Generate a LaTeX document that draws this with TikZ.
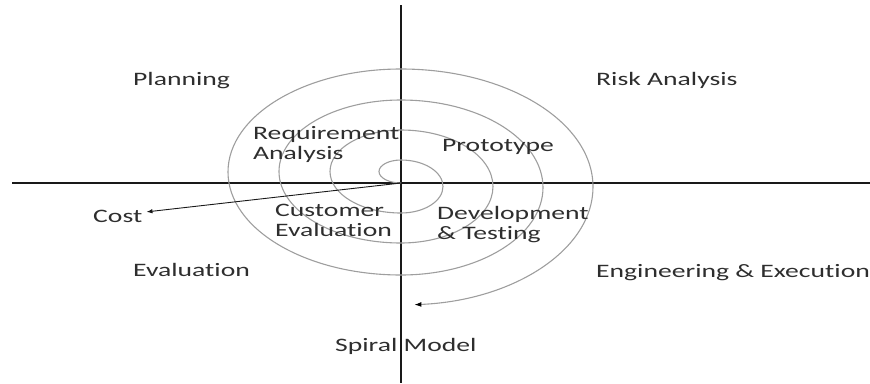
\documentclass[tikz,border=0pt]{standalone}
\usepackage{fontspec}
\setmainfont{Carlito}[RawFeature={-liga;-clig;-calt}]
\usetikzlibrary{arrows.meta}
\newcommand{\wide}[1]{\scalebox{1.455}[1]{#1}}
\begin{document}
\begin{tikzpicture}[x=1pt,y=-1pt,
  lbl/.style={anchor=base west,inner sep=0pt,text=black!82,font=\fontsize{19}{20.5}\selectfont},
  axis/.style={line width=1.3pt,black!90},
  spiral/.style={line width=1.1pt,black!38},
  tip/.style={-{Latex[length=7pt,width=5pt,black]}}]
\useasboundingbox (0,0) rectangle (870,383);
% axes
\coordinate (o) at (401,183);
\coordinate (top) at (401,5);
\coordinate (bot) at (401,383);
\coordinate (lft) at (12,183);
\coordinate (rgt) at (870,183);
\draw[axis] (top) -- (bot);
\draw[axis] (lft) -- (rgt);
% spiral
\draw[spiral] (o)
  arc[start angle=270,end angle=90,x radius=22pt,y radius=11.5pt]
  arc[start angle=90,end angle=-90,x radius=42pt,y radius=26.5pt]
  arc[start angle=270,end angle=90,x radius=71pt,y radius=41.5pt]
  arc[start angle=90,end angle=-90,x radius=92pt,y radius=56.5pt]
  arc[start angle=270,end angle=90,x radius=122pt,y radius=71.5pt]
  arc[start angle=90,end angle=-90,x radius=142pt,y radius=87.5pt]
  arc[start angle=270,end angle=90,x radius=173pt,y radius=103pt] coordinate (s7);
\draw[spiral,tip] (s7)
  arc[start angle=90,end angle=-86,x radius=192pt,y radius=118pt];
% labels
\node[lbl] (plan) at (133,85) {\wide{Planning}};
\node[lbl] (risk) at (596,85) {\wide{Risk Analysis}};
\node[lbl] (req) at (253,139) {\wide{\begin{tabular}[t]{@{}l@{}}Requirement\\Analysis\end{tabular}}};
\node[lbl] (proto) at (442,151) {\wide{Prototype}};
\node[lbl] (cust) at (275,216) {\wide{\begin{tabular}[t]{@{}l@{}}Customer\\Evaluation\end{tabular}}};
\node[lbl] (dev) at (437,219) {\wide{\begin{tabular}[t]{@{}l@{}}Development\\\& Testing\end{tabular}}};
\node[lbl] (cost) at (93,222) {\wide{Cost}};
\node[lbl] (eval) at (133,276) {\wide{Evaluation}};
\node[lbl] (eng) at (596,277) {\wide{Engineering \& Execution}};
\node[lbl] (spm) at (335,351) {\wide{Spiral Model}};
% cost arrow
\draw[line width=0.9pt,black!90,-{Latex[length=6pt,width=4.5pt]}] (o) -- ([shift={(4,-4)}]cost.east);
\end{tikzpicture}
\end{document}
